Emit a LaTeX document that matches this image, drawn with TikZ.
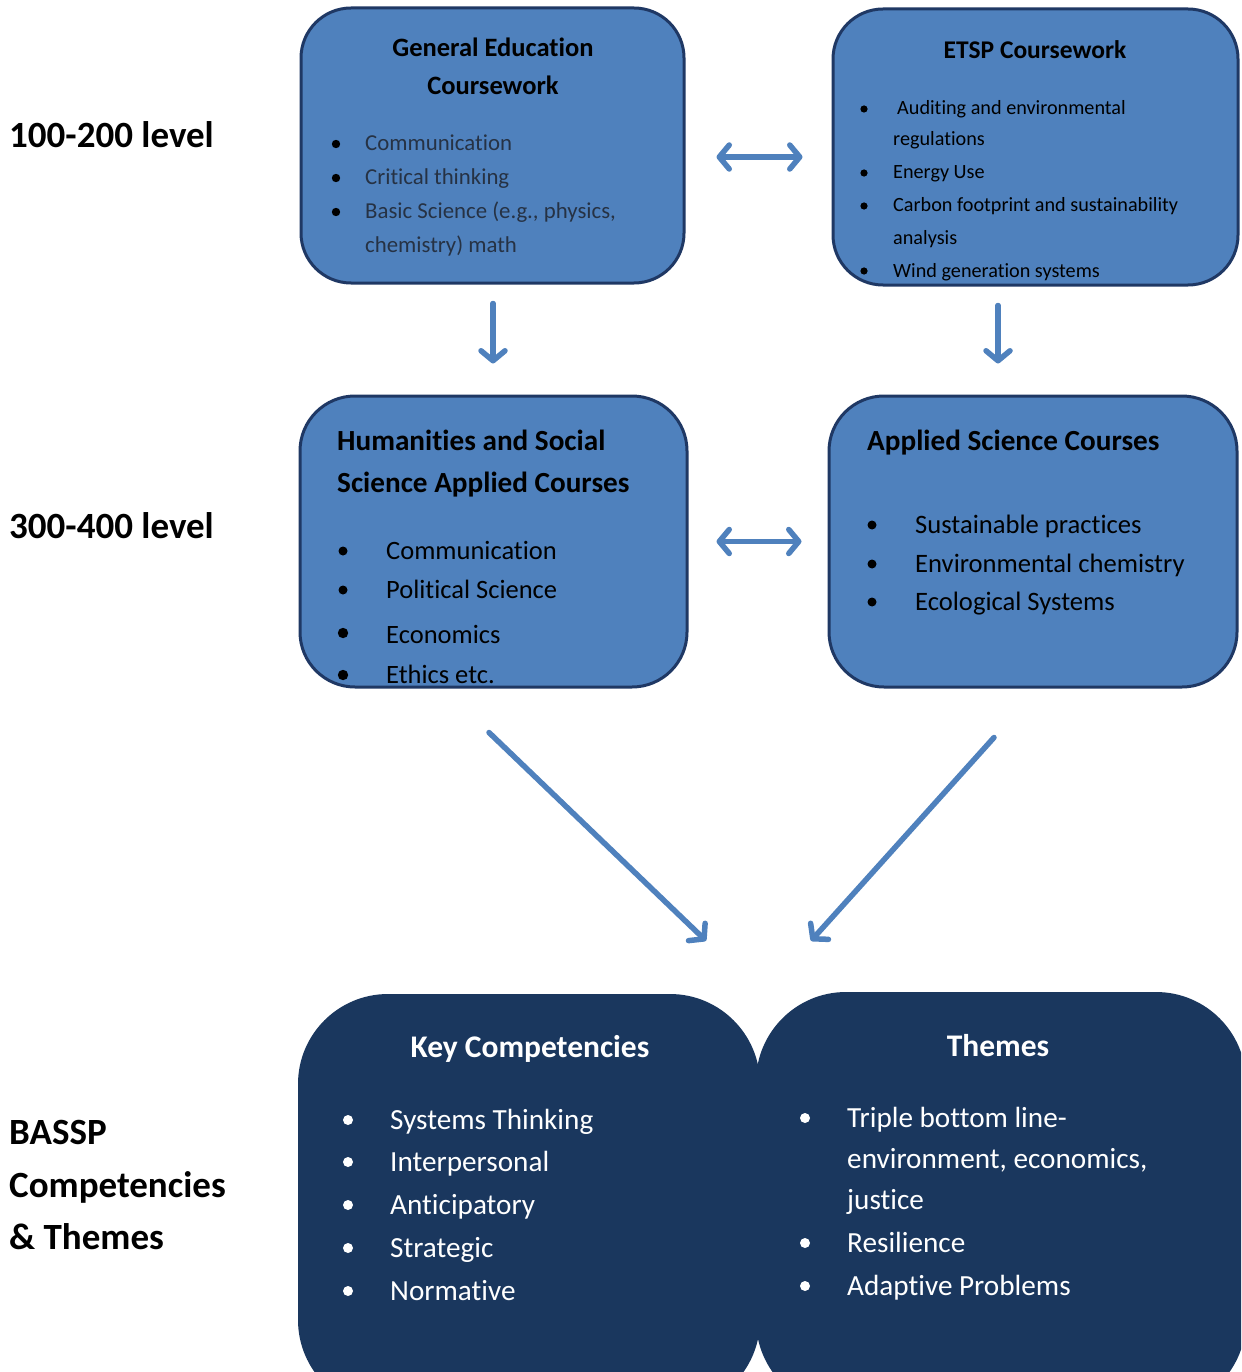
\documentclass[tikz,border=0pt]{standalone}
\usepackage{fontspec}
\setmainfont{Carlito}[Ligatures=NoCommon]
\usetikzlibrary{arrows.meta}
\definecolor{boxblue}{HTML}{4F81BD}
\definecolor{boxedge}{HTML}{1F3864}
\definecolor{darkbox}{HTML}{1A375E}
\definecolor{gtext}{HTML}{263244}
\begin{document}
\begin{tikzpicture}[x=1pt,y=-1pt,
  bluebox/.style={draw=boxedge, line width=3pt, fill=boxblue, rounded corners=#1, inner sep=0pt},
  darkbox/.style={draw=none, fill=darkbox, rounded corners=90pt, inner sep=0pt},
  txt/.style={inner sep=0pt, anchor=base west},
  ctxt/.style={inner sep=0pt, anchor=base},
  lvl/.style={txt, font=\fontsize{37}{52}\selectfont\bfseries},
  tip/.tip={Straight Barb[round, length=10pt, width=24pt]},
  arr/.style={draw=boxblue, line width=5.5pt, line cap=round, -tip},
  darr/.style={draw=boxblue, line width=5.5pt, line cap=round, tip-tip},
  bul/.style={fill=black}
]
\useasboundingbox (0,0) rectangle (1241,1372);
\fill[white] (0,0) rectangle (1241,1372);

% ---- boxes ----
\node[bluebox=50pt, minimum width=383pt, minimum height=275pt] (ge) at (492.5,145.5) {};
\node[bluebox=50pt, minimum width=405pt, minimum height=276pt] (etsp) at (1035.5,147) {};
\node[bluebox=55pt, minimum width=387pt, minimum height=291pt] (hum) at (493.5,541.5) {};
\node[bluebox=55pt, minimum width=408pt, minimum height=291pt] (app) at (1033,541.5) {};
\begin{scope}
\clip (0,0) rectangle (1241,1372);
\node[darkbox, minimum width=462pt, minimum height=416pt] (kc) at (529,1202) {};
\node[darkbox, minimum width=490pt, minimum height=418pt] (th) at (1001,1201) {};
\end{scope}

% ---- level labels ----
\node[lvl] (l1) at (9,148) {100-200 level};
\node[lvl] (l2) at (9,538) {300-400 level};
\node[lvl] (l3a) at (9,1144) {BASSP};
\node[lvl] (l3b) at (9,1197) {Competencies};
\node[lvl] (l3c) at (9,1249) {\& Themes};

% ---- General Education ----
\begin{scope}[every node/.append style={font=\fontsize{26.5}{32}\selectfont\bfseries}]
\node[ctxt] (get1) at (493,57) {General Education};
\node[ctxt] (get2) at (493,95) {Coursework};
\end{scope}
\begin{scope}[every node/.append style={font=\fontsize{22.8}{28}\selectfont, text=gtext}]
\node[txt] (gei1) at (365,151) {Communication};
\node[txt] (gei2) at (365,185) {Critical thinking};
\node[txt] (gei3) at (365,219) {Basic Science (e.g., physics,};
\node[txt] (gei4) at (365,252) {chemistry) math};
\end{scope}
\foreach \y in {144,178,212} \fill[bul] (336,\y) circle (4.2pt);

% ---- ETSP ----
\node[ctxt, font=\fontsize{25.5}{30}\selectfont\bfseries] (et) at (1035,59) {ETSP Coursework};
\begin{scope}[every node/.append style={font=\fontsize{20.2}{25}\selectfont}]
\node[txt] (eti1) at (897,115) {Auditing and environmental};
\node[txt] (eti2) at (893,146) {regulations};
\node[txt] (eti3) at (893,179) {Energy Use};
\node[txt] (eti4) at (893,212) {Carbon footprint and sustainability};
\node[txt] (eti5) at (893,244) {analysis};
\node[txt] (eti6) at (893,277) {Wind generation systems};
\end{scope}
\foreach \y in {109,173,206,271} \fill[bul] (864,\y) circle (3.6pt);

% ---- Humanities ----
\begin{scope}[every node/.append style={font=\fontsize{29.2}{34}\selectfont\bfseries}]
\node[txt] (hut1) at (337,450) {Humanities and Social};
\node[txt] (hut2) at (337,492) {Science Applied Courses};
\end{scope}
\begin{scope}[every node/.append style={font=\fontsize{26.5}{32}\selectfont}]
\node[txt] (hui1) at (386,559) {Communication};
\node[txt] (hui2) at (386,598) {Political Science};
\node[txt] (hui3) at (386,643) {Economics};
\node[txt] (hui4) at (386,683) {Ethics etc.};
\end{scope}
\foreach \y/\r in {551/4.5,590/4.5,633/5.2,675/5.2} \fill[bul] (343,\y) circle (\r pt);

% ---- Applied Science ----
\node[txt, font=\fontsize{29.2}{34}\selectfont\bfseries] (apt) at (867,450) {Applied Science Courses};
\begin{scope}[every node/.append style={font=\fontsize{26.6}{32}\selectfont}]
\node[txt] (api1) at (915,533) {Sustainable practices};
\node[txt] (api2) at (915,572) {Environmental chemistry};
\node[txt] (api3) at (915,610) {Ecological Systems};
\end{scope}
\foreach \y in {525,564,602} \fill[bul] (872,\y) circle (4.5pt);

% ---- Key Competencies ----
\node[ctxt, text=white, font=\fontsize{31.5}{38}\selectfont\bfseries] (kct) at (530,1057) {Key Competencies};
\begin{scope}[every node/.append style={font=\fontsize{29.2}{36}\selectfont, text=white}]
\node[txt] (kci1) at (390,1129) {Systems Thinking};
\node[txt] (kci2) at (390,1171) {Interpersonal};
\node[txt] (kci3) at (390,1214) {Anticipatory};
\node[txt] (kci4) at (390,1257) {Strategic};
\node[txt] (kci5) at (390,1300) {Normative};
\end{scope}
\foreach \y in {1120,1162,1205,1248,1291} \fill[white] (348,\y) circle (5pt);

% ---- Themes ----
\node[ctxt, text=white, font=\fontsize{31.5}{38}\selectfont\bfseries] (tht) at (998,1056) {Themes};
\begin{scope}[every node/.append style={font=\fontsize{29.2}{36}\selectfont, text=white}]
\node[txt] (thi1) at (847,1127) {Triple bottom line-};
\node[txt] (thi2) at (847,1168) {environment, economics,};
\node[txt] (thi3) at (847,1209) {justice};
\node[txt] (thi4) at (847,1252) {Resilience};
\node[txt] (thi5) at (847,1295) {Adaptive Problems};
\end{scope}
\foreach \y in {1118,1243,1286} \fill[white] (805,\y) circle (5pt);

% ---- connectors ----
\draw[darr] ([xshift=31pt,yshift=-11.5pt]ge.east) -- ([xshift=-29pt,yshift=-10pt]etsp.west);
\draw[darr] ([xshift=28pt]hum.east) -- ([xshift=-26pt]app.west);
\draw[arr] ([xshift=0.5pt,yshift=-19pt]ge.south) -- ([xshift=-0.5pt,yshift=31pt]hum.north);
\draw[arr] ([xshift=-37.5pt,yshift=-19pt]etsp.south) -- ([xshift=-35pt,yshift=31pt]app.north);
\draw[arr] ([xshift=-4.5pt,yshift=-44pt]hum.south) -- ([xshift=177pt,yshift=53pt]kc.north);
\draw[arr] ([xshift=-39pt,yshift=-49pt]app.south) -- ([xshift=-190pt,yshift=51pt]th.north);
\end{tikzpicture}
\end{document}
